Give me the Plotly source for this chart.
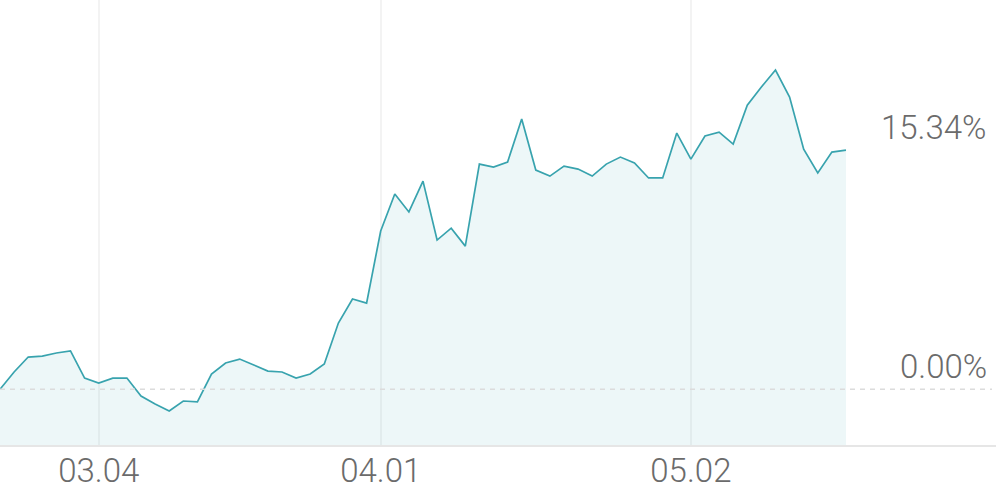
import plotly.graph_objects as go

# Daily cumulative return (%) by trading-day index
returns = [0.00, 1.11, 2.07, 2.13, 2.33, 2.46, 0.72, 0.40, 0.72, 0.72,
           -0.43, -0.94, -1.39, -0.75, -0.81, 0.98, 1.69, 1.94, 1.56, 1.17,
           1.11, 0.72, 0.98, 1.62, 4.25, 5.79, 5.53, 10.15, 12.52, 11.37,
           13.35, 9.57, 10.33, 9.18, 14.44, 14.25, 14.57, 17.33, 14.06, 13.67,
           14.31, 14.12, 13.67, 14.44, 14.89, 14.51, 13.55, 13.55, 16.43, 14.76,
           16.24, 16.49, 15.72, 18.22, 19.38, 20.47, 18.74, 15.40, 13.87, 15.21,
           15.34]
idx = list(range(len(returns)))
tick_idx = [7, 27, 49]
tick_labels = ["03.04", "04.01", "05.02"]
label_values = [15.34, 0.00]
label_texts = ["15.34%", "0.00%"]

y_min, y_max = -3.57, 24.96
x_max = 70.64

fig = go.Figure()
fig.add_trace(go.Scatter(x=idx, y=[y_min] * len(idx), mode="lines",
                         line=dict(width=0), hoverinfo="skip", showlegend=False))
fig.add_trace(go.Scatter(x=idx, y=returns, mode="lines", fill="tonexty",
                         fillcolor="rgba(58,166,176,0.09)",
                         line=dict(color="#38a3ae", width=1.7),
                         showlegend=False))

fig.add_shape(type="line", xref="paper", yref="y", x0=0, x1=0.996, y0=0, y1=0,
              line=dict(color="#dcdcdc", width=1.5, dash="5px,5px"))

for v, t in zip(label_values, label_texts):
    fig.add_annotation(xref="paper", yref="y", x=0.993, y=v, text=t,
                       xanchor="right", yanchor="middle", yshift=23,
                       showarrow=False,
                       font=dict(family="Roboto", size=33, color="#6b6b6b", weight=300))

fig.update_layout(
    width=996, height=490,
    margin=dict(l=0, r=0, t=0, b=45),
    paper_bgcolor="white", plot_bgcolor="white",
    font=dict(family="Roboto", size=33, color="#6b6b6b", weight=300),
    xaxis=dict(range=[0, x_max], tickmode="array", tickvals=tick_idx,
               ticktext=tick_labels, showgrid=True, gridcolor="#f3f3f3",
               gridwidth=2, zeroline=False, showline=True, linecolor="#e6e6e6",
               linewidth=2, ticks="", fixedrange=True, automargin=False,
               ticklabelstandoff=-5,
               tickfont=dict(family="Roboto", size=33, color="#6b6b6b", weight=300)),
    yaxis=dict(range=[y_min, y_max], showgrid=False, zeroline=False,
               showticklabels=False, fixedrange=True, automargin=False),
)

fig.write_html("out.html", config={"displayModeBar": False},
               post_script="document.body.style.margin='0px';document.body.style.overflow='hidden';")
